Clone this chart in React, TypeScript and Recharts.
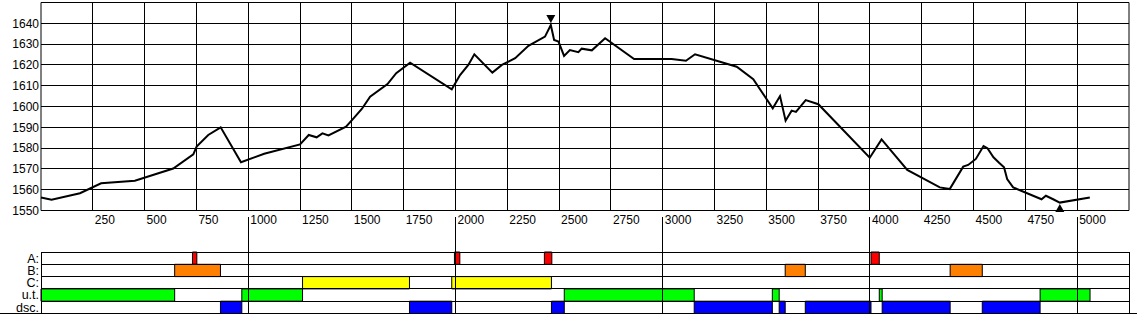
import React from 'react';
import {
  ComposedChart, Line, XAxis, YAxis,
  ReferenceArea, ReferenceLine, ReferenceDot
} from 'recharts';

// profile: distance (m) and elevation (m)
const distances = [
  0, 51, 188, 290, 453, 638, 735, 751, 807, 867, 965, 1077, 1250, 1292, 1330, 1358, 1387,
  1472, 1508, 1548, 1588, 1672, 1714, 1781, 1982, 2022, 2062, 2091, 2178, 2224, 2288, 2352,
  2432, 2460, 2476, 2497, 2524, 2552, 2593, 2609, 2658, 2722, 2862, 3043, 3112, 3156, 3357,
  3437, 3531, 3566, 3593, 3622, 3643, 3690, 3751, 3999, 4056, 4180, 4337, 4385, 4450, 4474,
  4511, 4548, 4567, 4596, 4623, 4647, 4662, 4691, 4828, 4849, 4884, 4916, 5061
];
const elevations = [
  1556.2, 1555.2, 1558.3, 1563.1, 1564.3, 1570.2, 1577, 1580.7, 1586.3, 1590, 1573.2, 1577.3,
  1581.8, 1586.3, 1585.2, 1587.1, 1586.1, 1590.3, 1594.3, 1598.8, 1604.7, 1610.8, 1616, 1621.1,
  1608.3, 1615.1, 1620, 1625.1, 1616.3, 1620, 1623.2, 1629.2, 1633.6, 1639.2, 1632, 1631.2,
  1624.3, 1627.1, 1626.1, 1627.8, 1627, 1632.8, 1622.8, 1622.8, 1622, 1625.1, 1619.1, 1613.1,
  1599.1, 1605, 1593.2, 1598, 1597.4, 1603.1, 1601.1, 1575.4, 1584.2, 1569.5, 1561.1, 1560.3,
  1571.1, 1571.9, 1574.8, 1581, 1579.9, 1575.6, 1573, 1570.8, 1565.1, 1561.1, 1555.4, 1557.1,
  1555.4, 1553.8, 1556.3
];

const maxPoint = { dist: 2460, elev: 1639.2 };
const minPoint = { dist: 4916, elev: 1553.8 };

const distanceTicks = [250, 500, 750, 1000, 1250, 1500, 1750, 2000, 2250, 2500, 2750, 3000, 3250, 3500, 3750, 4000, 4250, 4500, 4750, 5000];
const elevationTicks = [1550, 1560, 1570, 1580, 1590, 1600, 1610, 1620, 1630, 1640];
const kmTicks = [1000, 2000, 3000, 4000, 5000];
const distanceMax = 5250;

// band rows
const rowLabels = ['A:', 'B:', 'C:', 'u.t.', 'dsc.'];
const rowColors = ['#ff0000', '#ff8000', '#ffff00', '#00ff00', '#0000ff'];
const segA = [[731, 752], [1995, 2021], [2429, 2465], [4005, 4045]];
const segB = [[645, 866], [3591, 3688], [4387, 4542]];
const segC = [[1262, 1778], [1982, 2463]];
const segUT = [[0, 645], [969, 1262], [2525, 3152], [3529, 3562], [4045, 4059], [4821, 5062]];
const segDsc = [[866, 969], [1778, 1982], [2463, 2525], [3152, 3529], [3562, 3591], [3688, 4005], [4059, 4387], [4542, 4821]];

const profile = distances.map((d, i) => ({ dist: d, elev: elevations[i] }));
const bandSegments = [segA, segB, segC, segUT, segDsc];
const rowData = rowLabels.map((label, i) => ({ label, dist: 0, row: i + 0.5 }));

const font = '"Liberation Sans", Arial, sans-serif';

const DistTick = (props: any) => {
  const { x, y, payload } = props;
  return (
    <text x={x + 2} y={y} dy="0.71em" fontSize={12} fill="#000" textAnchor="start" fontFamily={font}>
      {payload.value}
    </text>
  );
};

const NoTick = () => <g />;

const DownTriangle = (props: any) => {
  const { cx, cy } = props;
  return <path d={`M${cx - 4.5},${cy - 10} L${cx + 4.5},${cy - 10} L${cx},${cy - 2} Z`} fill="#000" />;
};

const UpTriangle = (props: any) => {
  const { cx, cy } = props;
  return <path d={`M${cx - 4.5},${cy + 9.5} L${cx + 4.5},${cy + 9.5} L${cx},${cy + 1.5} Z`} fill="#000" />;
};

const App = () => {
  return (
    <div style={{ position: 'absolute', left: 0, top: 0, width: 1137, height: 317, fontFamily: font, background: '#fff' }}>
      <style>{`
        .recharts-reference-line line,
        .recharts-cartesian-axis-tick-line { shape-rendering: crispEdges; }
      `}</style>
      <div style={{ position: 'absolute', left: 0, top: 0 }}>
        <ComposedChart width={1137} height={232} data={profile} margin={{ top: 2.5, right: 8, bottom: 0, left: 0 }}>
          <XAxis
            type="number" dataKey="dist" domain={[0, distanceMax]} ticks={distanceTicks} interval={0}
            tickLine={false} axisLine={false} tickSize={0} tickMargin={5} height={21.5}
            tick={(p: any) => <DistTick {...p} />}
          />
          <YAxis
            type="number" domain={[1550, 1650]} ticks={elevationTicks} interval={0} width={41}
            tickLine={false} axisLine={false} tickSize={0} tickMargin={2}
            tick={{ fontSize: 12, fill: '#000', fontFamily: font }}
          />
          {distanceTicks.map((t) => (
            <ReferenceLine key={'v' + t} x={t} stroke="#000" />
          ))}
          {elevationTicks.map((t) => (
            <ReferenceLine key={'h' + t} y={t} stroke="#000" />
          ))}
          <ReferenceArea x1={0} x2={distanceMax} y1={1550} y2={1650} fill="none" stroke="#000" />
          <Line type="linear" dataKey="elev" stroke="#000" strokeWidth={2} dot={false} isAnimationActive={false} />
          <ReferenceDot x={maxPoint.dist} y={maxPoint.elev} shape={(p: any) => <DownTriangle {...p} />} />
          <ReferenceDot x={minPoint.dist} y={minPoint.elev} shape={(p: any) => <UpTriangle {...p} />} />
        </ComposedChart>
      </div>
      <div style={{ position: 'absolute', left: 0, top: 217 }}>
        <ComposedChart width={1137} height={100} data={rowData} margin={{ top: 0, right: 8, bottom: 3.5, left: 0 }}>
          <XAxis
            type="number" dataKey="dist" orientation="top" domain={[0, distanceMax]} ticks={kmTicks} interval={0}
            allowDataOverflow tick={NoTick} tickSize={35} height={35} axisLine={false}
            stroke="#000" tickLine={{ stroke: '#000' }}
          />
          <YAxis
            type="number" dataKey="row" domain={[0, 5]} reversed allowDataOverflow
            ticks={[0.5, 1.5, 2.5, 3.5, 4.5]} interval={0} width={41}
            tickLine={false} axisLine={false} tickSize={0} tickMargin={2}
            tickFormatter={(v: number) => rowLabels[Math.floor(v)]}
            tick={{ fontSize: 12.5, fill: '#000', fontFamily: font }}
          />
          <Line dataKey="row" stroke="none" dot={false} activeDot={false} isAnimationActive={false} />
          {kmTicks.map((t) => (
            <ReferenceLine key={'k' + t} x={t} stroke="#000" />
          ))}
          {[0, 1, 2, 3, 4, 5].map((k) => (
            <ReferenceLine key={'r' + k} y={k} stroke="#000" />
          ))}
          <ReferenceLine x={0} stroke="#000" />
          <ReferenceLine x={distanceMax} stroke="#000" />
          {bandSegments.map((segs, row) =>
            segs.map((s, j) => (
              <ReferenceArea
                key={row + '-' + j} x1={s[0]} x2={s[1]} y1={row} y2={row + 1}
                fill={rowColors[row]} fillOpacity={1} stroke="#000" strokeWidth={1}
              />
            ))
          )}
        </ComposedChart>
      </div>
      <div style={{ position: 'absolute', left: 0, top: 313, width: 1137, height: 1, background: '#000' }} />
    </div>
  );
};

export default App;
